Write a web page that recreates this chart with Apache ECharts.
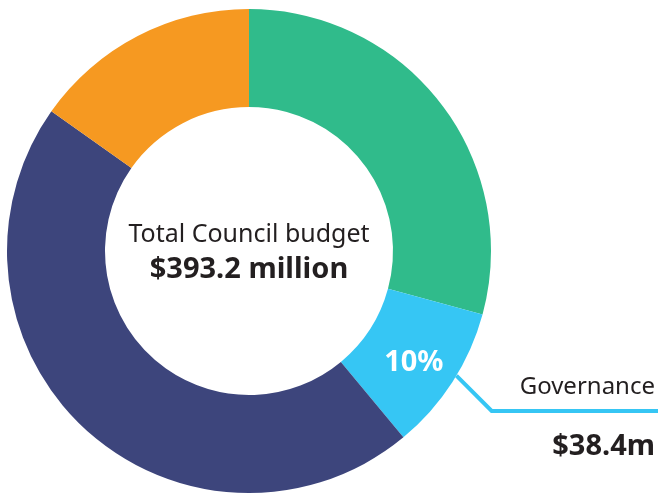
<!DOCTYPE html>
<html>
<head>
<meta charset="utf-8">
<script src="https://cdn.jsdelivr.net/npm/echarts@6/dist/echarts.min.js"></script>
<style>
  html, body { margin: 0; padding: 0; background: #fff; }
  #chart { width: 661px; height: 496px; }
</style>
</head>
<body>
<div id="chart"></div>
<script>
// Budget split, $ million, clockwise from 12 o'clock
const categories = ['Service area 1', 'Governance', 'Service area 2', 'Service area 3'];
const amounts = [114.9, 38.4, 180.1, 59.8];
const colors = ['#30BB8B', '#36C6F4', '#3D457C', '#F69921'];
const totalLabel = 'Total Council budget';
const totalValue = '$393.2 million';
const highlighted = 'Governance';

const FONT = '"Noto Sans", sans-serif';
const INK = '#231F20';
const total = amounts.reduce((a, b) => a + b, 0);
const hi = categories.indexOf(highlighted);

const center = [249, 251];
const radius = [144, 242];

const chart = echarts.init(document.getElementById('chart'), null, { renderer: 'canvas' });

const ringData = categories.map((name, i) => ({
  name,
  value: amounts[i],
  itemStyle: { color: colors[i] },
  label: i === hi ? {
    show: true,
    position: 'inside',
    formatter: () => Math.round(amounts[i] / total * 100) + '%',
    color: '#fff',
    fontFamily: FONT,
    fontWeight: 'bold',
    fontSize: 29,
    offset: [0, 6]
  } : { show: false }
}));

const calloutData = categories.map((name, i) => ({
  name,
  value: amounts[i],
  label: i === hi ? {
    show: true,
    formatter: () => '{a|' + name + '}\n{gap|}\n{b|$' + amounts[i].toFixed(1) + 'm}'
  } : { show: false },
  labelLine: { show: i === hi }
}));

// angle (clockwise from top) near the middle of the highlighted slice
const before = amounts.slice(0, hi).reduce((a, b) => a + b, 0);
const midDeg = (before + amounts[hi] * 0.45) / total * 360;
const midRad = (midDeg - 90) * Math.PI / 180;

chart.setOption({
  animation: false,
  backgroundColor: '#fff',
  series: [
    {
      type: 'pie',
      center, radius,
      startAngle: 90,
      clockwise: true,
      silent: true,
      data: ringData,
      labelLine: { show: false }
    },
    {
      type: 'pie',
      center, radius,
      startAngle: 90,
      clockwise: true,
      silent: true,
      z: 3,
      itemStyle: { color: 'rgba(0,0,0,0)' },
      data: calloutData,
      label: {
        position: 'outside',
        rich: {
          a: { fontFamily: FONT, fontSize: 24, color: INK, lineHeight: 32, align: 'right' },
          gap: { lineHeight: 22 },
          b: { fontFamily: FONT, fontSize: 29, fontWeight: 'bold', color: INK, lineHeight: 44, align: 'right' }
        }
      },
      labelLine: { show: true, lineStyle: { color: colors[hi], width: 4 } },
      labelLayout: (p) => {
        if (p.dataIndex !== hi) return {};
        const sx = center[0] + radius[1] * Math.cos(midRad);
        const sy = center[1] + radius[1] * Math.sin(midRad);
        const ly = 411;
        const kx = sx + (ly - sy);
        return {
          x: 655, y: 371,
          align: 'right', verticalAlign: 'top',
          labelLinePoints: [[sx, sy], [kx, ly], [658, ly]]
        };
      }
    }
  ],
  graphic: [
    {
      type: 'text', x: center[0], y: 235,
      style: { text: totalLabel, fill: INK, font: '25px ' + FONT, textAlign: 'center', textVerticalAlign: 'middle' }
    },
    {
      type: 'text', x: center[0], y: 270,
      style: { text: totalValue, fill: INK, font: 'bold 29px ' + FONT, textAlign: 'center', textVerticalAlign: 'middle' }
    }
  ]
});
</script>
</body>
</html>
